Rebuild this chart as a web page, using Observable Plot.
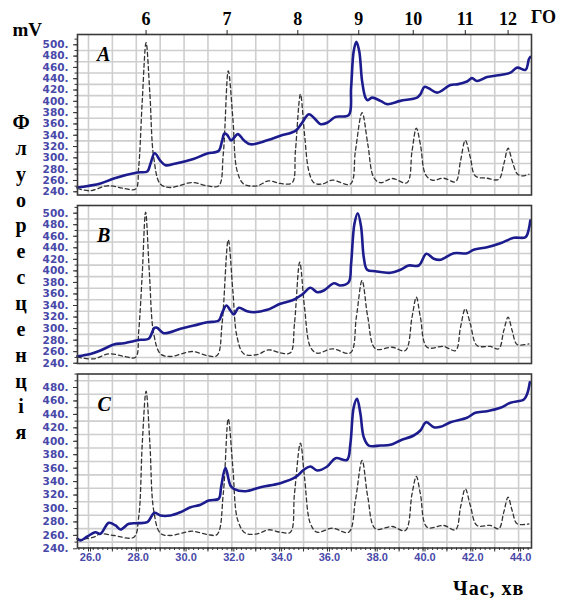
<!DOCTYPE html>
<html>
<head>
<meta charset="utf-8">
<script src="https://cdn.jsdelivr.net/npm/d3@7"></script>
<script src="https://cdn.jsdelivr.net/npm/@observablehq/plot@0.6"></script>
<style>
  html, body { margin: 0; padding: 0; background: #fff; }
  #wrap { position: relative; width: 561px; height: 598px; overflow: hidden; background: #fff; }
  #wrap svg { position: absolute; left: 0; top: 0; background: transparent; }
</style>
</head>
<body>
<div id="wrap"></div>
<script>
// ---------- data (time in minutes, signal in mV) ----------
const peakTimes  = [28.41, 31.80, 34.76, 37.31, 39.59, 41.77, 43.56];
const peakLabels = ["6", "7", "8", "9", "10", "11", "12"];
const xTickValues = [26, 28, 30, 32, 34, 36, 38, 40, 42, 44];
const yTicksAB = [240, 260, 280, 300, 320, 340, 360, 380, 400, 420, 440, 460, 480, 500];
const yTicksC  = [240, 260, 280, 300, 320, 340, 360, 380, 400, 420, 440, 460, 480];
const panelLetters = ["A", "B", "C"];
const sideLetters = ["Ф","л","у","о","р","е","с","ц","е","н","ц","і","я"];

// Panel A
const aSolidT = [25.54,26.50,27.06,28.04,28.46,28.59,28.77,29.01,29.22,29.56,30.39,30.97,31.44,31.59,31.69,31.80,31.97,32.25,32.50,32.78,33.48,34.03,34.66,34.90,35.22,35.43,35.71,35.99,36.34,36.89,36.99,37.10,37.21,37.33,37.45,37.59,37.69,37.87,38.22,38.50,39.05,39.75,39.89,40.06,40.24,40.59,41.15,41.43,41.84,42.05,42.26,42.68,43.24,43.66,43.94,44.29,44.43,44.49];
const aSolidV = [247.6,254.7,263.5,274,276,289,308,294.8,287,289,297.8,307.7,312,330,343,341,331,342,331,324,331,339,347.8,359.6,377,371,359.6,362,372.5,375.5,424,489,505.5,489,436,406.6,402,406.6,400.8,395,400.8,406.6,412.6,425.5,423,415.4,429,430,435,441,436,443,446.7,450.8,459.6,455.5,474.4,478.5];
const aDashT = [25.54,26.08,26.78,27.48,27.97,28.10,28.25,28.41,28.57,28.73,29.01,29.43,30.34,30.97,31.45,31.64,31.85,32.04,32.22,32.50,33.06,33.54,34.03,34.52,34.66,34.87,35.04,35.22,35.43,35.78,36.20,36.96,37.17,37.45,37.69,37.94,38.22,38.71,39.33,39.54,39.72,39.89,40.10,40.38,40.87,41.36,41.57,41.77,41.98,42.19,42.68,43.17,43.38,43.56,43.73,43.94,44.15,44.43];
const aDashV = [245.8,241.8,250.6,246,244.7,283,400.8,503.8,412.6,300.6,253.6,247.6,256.4,250.6,250.6,306.6,453.8,371,277,253.6,250.6,259.4,254.7,256,312,412.6,342,277,256,253.6,260.6,253.6,312,380,324,265,256,263.5,256,312,352.5,324,271,260.6,264,257.7,294.8,331,300.6,268,264,262,289,317,294.8,272,268,271];

// Panel B
const bSolidT = [25.54,26.08,26.50,27.06,27.48,28.18,28.52,28.76,28.87,29.15,29.85,30.41,30.97,31.45,31.59,31.77,31.94,32.08,32.29,32.64,32.92,33.48,34.03,34.59,34.94,35.29,35.57,35.85,36.27,36.54,36.89,36.99,37.13,37.27,37.41,37.52,37.66,38.01,38.64,39.05,39.40,39.82,40.14,40.45,40.73,41.29,41.84,42.12,42.68,43.24,43.80,44.29,44.43,44.49];
const bSolidV = [252,256,262,272.4,274.7,280.5,282.3,301.3,301.3,292,299.6,305.3,311,314,326.7,340,331.3,324.4,336,330,328.4,332.5,343,350,359,370.7,363,366,378.6,374.7,380.4,412,481.6,500,475.7,423.7,401.9,399.4,396.7,401.9,409.3,409.3,429.6,421,419.2,430.6,430.6,436.5,441,448,457.3,458.4,473,487.3];
const bDashT = [25.54,26.22,26.85,27.48,27.97,28.10,28.25,28.39,28.55,28.73,29.01,29.43,30.34,30.97,31.38,31.59,31.85,32.04,32.22,32.50,33.06,33.54,34.03,34.45,34.62,34.84,35.04,35.29,35.57,36.20,36.96,37.21,37.45,37.69,38.01,38.71,39.26,39.54,39.72,39.89,40.17,40.87,41.36,41.57,41.77,41.98,42.26,42.82,43.17,43.38,43.56,43.73,43.94,44.43];
const bDashV = [250.4,247.6,256.3,252,250.4,294.7,395,501.7,395,291,256.3,251.6,260.3,253.3,253.3,308.3,453.9,366,285,256.3,255,263.2,258,258,308.3,415,337,267.7,257.3,265,258,319.7,383.3,319.7,265,267.7,262,319.7,354.4,319.7,267.7,269,262,302.4,334.3,308.3,270.7,269,265,296.7,319.7,296.7,272.4,273.6];

// Panel C
const cSolidT = [25.54,25.67,25.95,26.29,26.50,26.85,27.13,27.34,27.69,28.04,28.46,28.76,29.01,29.43,29.85,30.27,30.69,31.03,31.45,31.55,31.73,31.94,32.08,32.57,33.20,34.03,34.66,35.01,35.29,35.57,35.99,36.34,36.82,36.96,37.10,37.24,37.38,37.52,37.73,38.22,38.64,39.05,39.61,39.89,40.13,40.45,40.73,41.15,41.84,42.19,42.68,43.24,43.66,44.22,44.36,44.47];
const cSolidV = [254.9,252.4,258.3,264.7,262.3,278.7,274.7,268.7,277.2,278.1,279.6,293.6,289.6,289.6,294.5,301.9,305.5,311.9,314.4,331.7,360.5,334.2,329.3,325.7,331.7,337.6,346.5,357.6,362.5,356.5,362.5,374.8,372.4,396.2,450.7,463.2,440.9,406.1,393.7,393.7,394.7,401.2,408.6,416,428.4,421,421.5,428.4,435,442.4,444.8,449.8,457.3,462.2,470.7,487.9];
const cDashT = [25.54,26.22,26.50,27.06,27.90,28.10,28.25,28.41,28.57,28.73,29.01,29.43,30.34,30.97,31.38,31.64,31.85,32.04,32.25,32.57,33.06,33.54,34.03,34.45,34.62,34.87,35.04,35.29,35.57,36.20,36.89,37.17,37.45,37.69,38.01,38.71,39.26,39.54,39.72,39.89,40.17,40.87,41.36,41.57,41.77,41.98,42.26,42.82,43.17,43.38,43.56,43.73,43.94,44.43];
const cDashV = [253.4,257.3,262.3,259.8,257.3,287,396.2,474.5,396.2,297,263.2,259.8,266.2,261.3,261.3,321.8,433.4,361.4,282.1,263.2,262.3,268.3,264.7,264.7,321.8,397.2,346.5,277.2,264.7,270.7,264.7,311.9,371.4,316.8,269.8,273.2,267.2,321.8,347.6,321.8,272.1,274.7,268.3,301.9,329.3,304.4,274.7,274.7,269.8,294.5,316.8,297,277.2,277.2];

// ---------- drawing ----------
const W = 561, H = 598;
const X_DOMAIN = [25.54, 44.54];
const LABEL = "#4848a8";
const GRID = "#cecece";
const minuteGrid = d3.range(26, 45, 1);

function panel(cfg) {
  const solid = cfg.solidT.map((t, i) => ({t, v: cfg.solidV[i]}));
  const dash = cfg.dashT.map((t, i) => ({t, v: cfg.dashV[i]}));
  const yMinor = d3.range(240, 520, 10).filter(v => v >= cfg.yDomain[0] - 1 && v <= cfg.yDomain[1]);
  const yGrid = d3.range(250, 510, 20).filter(v => v > cfg.yDomain[0] + 2 && v < cfg.yDomain[1] - 4);
  const marks = [
    Plot.gridX(minuteGrid, {stroke: GRID, strokeOpacity: 1, strokeWidth: 1.6}),
    Plot.gridY(yGrid, {stroke: GRID, strokeOpacity: 1, strokeWidth: 1.6}),
    Plot.line(dash, {x: "t", y: "v", stroke: "#333", strokeWidth: 1.3, strokeDasharray: "4,3", curve: "catmull-rom"}),
    Plot.line(solid, {x: "t", y: "v", stroke: "#1c1c8e", strokeWidth: 2.6, curve: "catmull-rom"}),
    Plot.frame({stroke: "#3a3a3a", strokeWidth: 1.6}),
    Plot.axisY(yMinor, {tickSize: 2.5, tickFormat: () => "", stroke: "#333", label: null}),
    Plot.axisY(cfg.yTicks, {tickSize: 4, tickPadding: 5, tickFormat: d => d + ".", stroke: "#333", label: null,
      fill: LABEL, fontSize: 10.5, fontFamily: "DejaVu Sans", fontWeight: "bold"})
  ];
  if (cfg.topAxis) {
    marks.push(Plot.axisX(peakTimes, {anchor: "top", tickSize: 5, tickPadding: 5, stroke: "#222", label: null,
      tickFormat: d => peakLabels[peakTimes.indexOf(d)], fill: "#000",
      fontSize: 18, fontFamily: "Liberation Serif", fontWeight: "bold"}));
  }
  if (cfg.bottomAxis) {
    marks.push(Plot.axisX(d3.range(25.6, 44.5, 0.2), {anchor: "bottom", tickSize: 2.5, tickFormat: () => "", stroke: "#333", label: null}));
    marks.push(Plot.axisX(minuteGrid, {anchor: "bottom", tickSize: 4, tickFormat: () => "", stroke: "#333", label: null}));
    marks.push(Plot.axisX(xTickValues, {anchor: "bottom", tickSize: 4, tickPadding: 1.5, dx: 2, stroke: "#333", label: null,
      tickFormat: d => d.toFixed(1), fill: LABEL, fontSize: 11, fontFamily: "Liberation Sans", fontWeight: "bold"}));
  }
  return Plot.plot({
    width: W, height: H,
    marginLeft: 77, marginRight: W - 531,
    marginTop: cfg.frameTop, marginBottom: H - cfg.frameBottom,
    x: {domain: X_DOMAIN, axis: null, label: null},
    y: {domain: cfg.yDomain, axis: null, label: null},
    style: {background: "transparent", overflow: "visible"},
    marks
  });
}

const wrap = document.getElementById("wrap");
wrap.appendChild(panel({solidT: aSolidT, solidV: aSolidV, dashT: aDashT, dashV: aDashV,
  yDomain: [234.3, 518.2], frameTop: 34, frameBottom: 194.5, yTicks: yTicksAB, topAxis: true}));
wrap.appendChild(panel({solidT: bSolidT, solidV: bSolidV, dashT: bDashT, dashV: bDashV,
  yDomain: [239.5, 513.3], frameTop: 205, frameBottom: 363, yTicks: yTicksAB}));
wrap.appendChild(panel({solidT: cSolidT, solidV: cSolidV, dashT: cDashT, dashV: cDashV,
  yDomain: [241.2, 500.1], frameTop: 373.5, frameBottom: 547.5, yTicks: yTicksC, bottomAxis: true}));

// ---------- annotation text ----------
const ann = d3.create("svg").attr("width", W).attr("height", H)
  .style("font-family", "'Liberation Serif','DejaVu Serif',serif").style("font-weight", "bold");
ann.append("text").attr("x", 12.5).attr("y", 36).attr("font-size", 19).text("mV");
ann.append("text").attr("x", 531).attr("y", 23.3).attr("font-size", 18).text("ГО");
sideLetters.forEach((c, i) => {
  ann.append("text").attr("x", 21).attr("y", 129 + 25.85 * i).attr("text-anchor", "middle")
    .attr("font-size", 20).text(c);
});
const letterPos = [[97, 60.7], [97, 242.3], [97.5, 410.7]];
panelLetters.forEach((c, i) => {
  ann.append("text").attr("x", letterPos[i][0]).attr("y", letterPos[i][1])
    .attr("font-size", 20).attr("font-style", "italic").text(c);
});
ann.append("text").attr("x", 453).attr("y", 595).attr("font-size", 20).attr("letter-spacing", 1).text("Час, хв");
wrap.appendChild(ann.node());
</script>
</body>
</html>
